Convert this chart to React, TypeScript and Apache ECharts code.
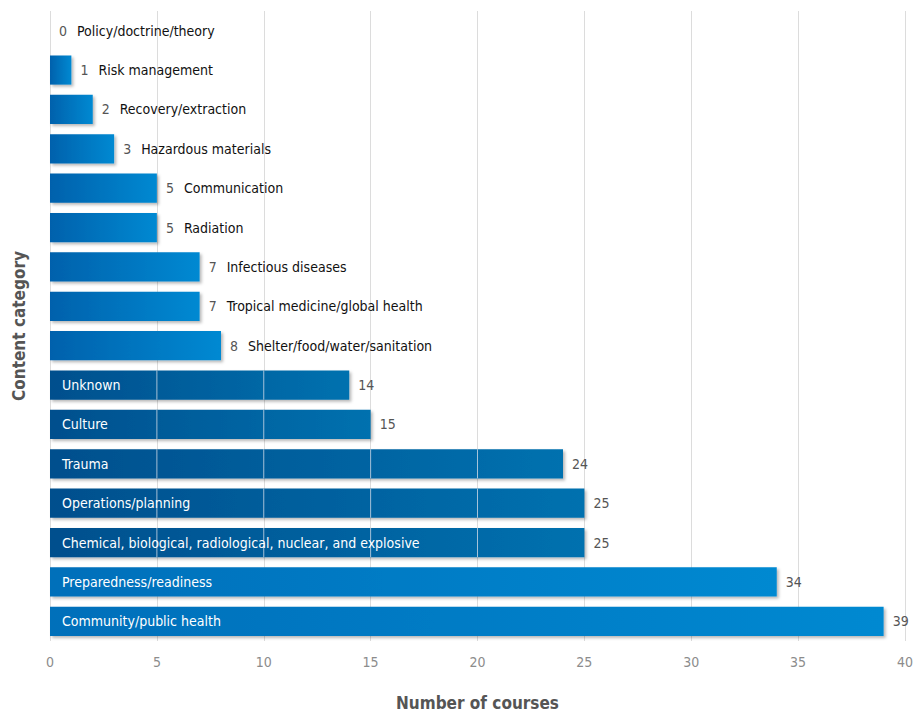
import React, { useEffect, useRef } from "react";
import * as echarts from "echarts";

const categories = [
  "Policy/doctrine/theory",
  "Risk management",
  "Recovery/extraction",
  "Hazardous materials",
  "Communication",
  "Radiation",
  "Infectious diseases",
  "Tropical medicine/global health",
  "Shelter/food/water/sanitation",
  "Unknown",
  "Culture",
  "Trauma",
  "Operations/planning",
  "Chemical, biological, radiological, nuclear, and explosive",
  "Preparedness/readiness",
  "Community/public health",
];
const values = [0, 1, 2, 3, 5, 5, 7, 7, 8, 14, 15, 24, 25, 25, 34, 39];
const groups = [
  "small", "small", "small", "small", "small", "small", "small", "small", "small",
  "dark", "dark", "dark", "dark", "dark",
  "light", "light",
];
const xTicks = [0, 5, 10, 15, 20, 25, 30, 35, 40];

const FONT = "'DejaVu Sans Condensed', 'Liberation Sans Narrow', 'Roboto', sans-serif";

const gradients: Record<string, [string, string]> = {
  small: ["#0061ac", "#0089d2"],
  dark: ["#004f8d", "#0071af"],
  light: ["#006fba", "#0089d1"],
};

export default function App() {
  const ref = useRef<HTMLDivElement>(null);
  useEffect(() => {
    if (!ref.current) return;
    const chart = echarts.init(ref.current, null, { renderer: "svg" });
    const step = xTicks[1] - xTicks[0];

    const barData = values.map((v, i) => {
      const g = gradients[groups[i]];
      const inside = groups[i] !== "small";
      return {
        value: v,
        itemStyle: {
          color: new echarts.graphic.LinearGradient(0, 0, 1, 0, [
            { offset: 0, color: g[0] },
            { offset: 1, color: g[1] },
          ]),
        },
        label: {
          show: true,
          position: "right",
          distance: 9,
          formatter: inside ? "{v|" + v + "}" : "{v|" + v + "}{n|" + categories[i] + "}",
        },
      };
    });

    const nameData = values.map((v, i) => ({
      value: groups[i] !== "small" ? v : 0,
      label: {
        show: groups[i] !== "small",
        formatter: categories[i],
      },
    }));

    const gridLineData = values.map((v, i) => (groups[i] === "dark" ? [v, i] : [0, i]));

    chart.setOption({
      animation: false,
      backgroundColor: "#ffffff",
      grid: {
        left: 50,
        right: 10,
        top: 11,
        bottom: 73,
        containLabel: false,
        outerBoundsMode: "none",
      },
      xAxis: {
        type: "value",
        min: xTicks[0],
        max: xTicks[xTicks.length - 1],
        interval: step,
        axisLine: { show: false },
        axisTick: { show: false },
        axisLabel: { color: "#8c8c8c", fontSize: 14, fontFamily: FONT, margin: 14 },
        splitLine: { show: true, lineStyle: { color: "#dcdcdc", width: 1 } },
        name: "Number of courses",
        nameLocation: "middle",
        nameGap: 53,
        nameTextStyle: { color: "#555555", fontSize: 17, fontWeight: "bold", fontFamily: FONT },
      },
      yAxis: {
        type: "category",
        data: categories,
        inverse: true,
        axisLine: { show: false },
        axisTick: { show: false },
        axisLabel: { show: false },
        name: "Content category",
        nameLocation: "middle",
        nameGap: 23,
        nameRotate: 90,
        nameTextStyle: { color: "#555555", fontSize: 17, fontWeight: "bold", fontFamily: FONT },
      },
      series: [
        {
          type: "bar",
          data: barData,
          barCategoryGap: "26%",
          z: 2,
          itemStyle: {
            shadowColor: "rgba(0,0,0,0.28)",
            shadowBlur: 3,
            shadowOffsetX: 2,
            shadowOffsetY: 2,
          },
          label: {
            show: true,
            fontFamily: FONT,
            rich: {
              v: { color: "#555555", fontSize: 14, fontFamily: FONT, padding: [0, 10, 0, 0] },
              n: { color: "#111111", fontSize: 14, fontFamily: FONT },
            },
          },
        },
        {
          type: "custom",
          data: gridLineData,
          z: 3,
          silent: true,
          renderItem: (params: any, api: any) => {
            const v = api.value(0);
            const c = api.value(1);
            const band = api.size([0, 1])[1];
            const h = band * 0.74;
            const children: any[] = [];
            for (let t = step; t < v; t += step) {
              const p = api.coord([t, c]);
              children.push({
                type: "line",
                shape: { x1: p[0], y1: p[1] - h / 2, x2: p[0], y2: p[1] + h / 2 },
                style: { stroke: "rgba(220,225,235,0.75)", lineWidth: 1 },
              });
            }
            return { type: "group", children };
          },
        },
        {
          type: "bar",
          data: nameData,
          barGap: "-100%",
          barCategoryGap: "26%",
          z: 4,
          silent: true,
          itemStyle: { color: "rgba(0,0,0,0)" },
          label: {
            show: true,
            position: "insideLeft",
            distance: 12,
            color: "#ffffff",
            fontSize: 14,
            fontFamily: FONT,
          },
        },
      ],
    });
    return () => chart.dispose();
  }, []);
  return (
    <div
      ref={ref}
      style={{ position: "fixed", left: 0, top: 0, width: 915, height: 714 }}
    />
  );
}
